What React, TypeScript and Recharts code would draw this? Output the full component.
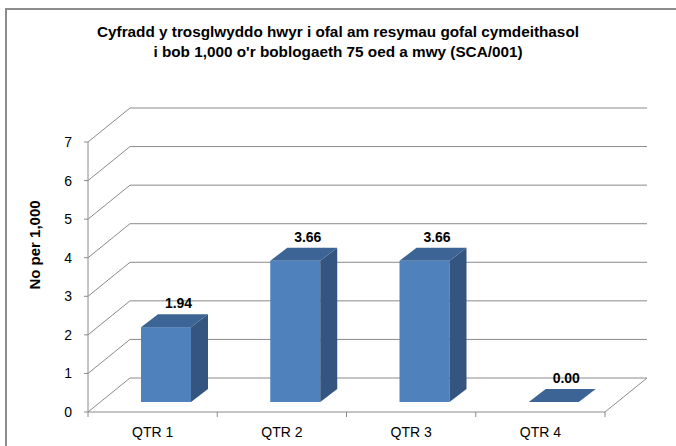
import { Bar, BarChart, CartesianGrid, LabelList, XAxis, YAxis } from "recharts";

const categories = ["QTR 1", "QTR 2", "QTR 3", "QTR 4"];
const rates = [1.94, 3.66, 3.66, 0];
const yTicks = [0, 1, 2, 3, 4, 5, 6, 7];

const chartData = categories.map((name, i) => ({ name, rate: rates[i] }));

// depth of the back wall, bar position inside the depth, bar thickness
const WALL_DX = 42;
const WALL_DY = -34;
const BAR_DX = 13;
const BAR_DY = -10;
const SIDE_DX = 17;
const SIDE_DY = -13;

const GRID = "#8a8a8a";
const FONT = "'Liberation Sans', Arial, sans-serif";

const gridLine = (props: any) => {
  const { x1, y1, x2, y2, x, y, width, height, index } = props;
  const isFloor = Math.abs(y1 - (y + height)) < 0.5;
  const step = width / categories.length;
  return (
    <g key={`grid-${index}`} stroke={GRID} strokeWidth={1} fill="none">
      <line x1={x1} y1={y1} x2={x1 + WALL_DX} y2={y1 + WALL_DY} />
      <line x1={x1 + WALL_DX} y1={y1 + WALL_DY} x2={x2 + WALL_DX} y2={y2 + WALL_DY} />
      {isFloor && (
        <>
          <line x1={x2} y1={y2} x2={x2 + WALL_DX} y2={y2 + WALL_DY} />
          {categories.map((_, i) => (
            <line key={i} x1={x + step * (i + 1)} y1={y2} x2={x + step * (i + 1)} y2={y2 + 5} />
          ))}
          <line x1={x} y1={y2} x2={x} y2={y2 + 5} />
        </>
      )}
    </g>
  );
};

const Bar3D = (props: any) => {
  const { x, y, width, height } = props;
  const bx = x + BAR_DX;
  const by = y + BAR_DY;
  const h = Math.max(height, 0);
  const top = `${bx},${by} ${bx + SIDE_DX},${by + SIDE_DY} ${bx + width + SIDE_DX},${by + SIDE_DY} ${bx + width},${by}`;
  const side = `${bx + width},${by} ${bx + width + SIDE_DX},${by + SIDE_DY} ${bx + width + SIDE_DX},${by + h + SIDE_DY} ${bx + width},${by + h}`;
  return (
    <g>
      {h > 0 && <rect x={bx} y={by} width={width} height={h} fill="#4F81BD" />}
      {h > 0 && <polygon points={side} fill="#33557F" />}
      <polygon points={top} fill="#3C6494" />
    </g>
  );
};

const renderValue = (props: any) => {
  const { x, y, width, value } = props;
  const cx = x + BAR_DX + (width + SIDE_DX) / 2 + 4;
  const cy = y + BAR_DY + SIDE_DY - 6;
  return (
    <text x={cx} y={cy} textAnchor="middle" fontFamily={FONT} fontSize={14} fontWeight="bold" fill="#000">
      {Number(value).toFixed(2)}
    </text>
  );
};

const App = () => {
  return (
    <div
      style={{
        position: "fixed",
        left: 0,
        top: 0,
        width: 676,
        height: 446,
        overflow: "hidden",
        background: "#fff",
      }}
    >
      <div
        style={{
          position: "absolute",
          left: 5,
          top: 8,
          width: 720,
          height: 480,
          border: "2px solid #8c8c8c",
        }}
      />
      <div
        style={{
          position: "absolute",
          left: 0,
          top: 22,
          width: 676,
          textAlign: "center",
          fontFamily: FONT,
          fontSize: 15.3,
          fontWeight: "bold",
          lineHeight: "20px",
          color: "#000",
        }}
      >
        Cyfradd y trosglwyddo hwyr i ofal am resymau gofal cymdeithasol
        <br />
        i bob 1,000 o'r boblogaeth 75 oed a mwy (SCA/001)
      </div>
      <div style={{ position: "absolute", left: 0, top: 0 }}>
        <BarChart
          width={676}
          height={446}
          data={chartData}
          margin={{ top: 142, right: 71, bottom: 0, left: 0 }}
          barSize={50}
        >
          <CartesianGrid vertical={false} horizontal={gridLine} />
          <XAxis
            dataKey="name"
            height={34}
            tickLine={false}
            axisLine={{ stroke: GRID }}
            tick={{ fontFamily: FONT, fontSize: 14, fill: "#000" }}
            tickMargin={9}
          />
          <YAxis
            width={88}
            domain={[0, 7]}
            ticks={yTicks}
            interval={0}
            tickSize={4}
            tickMargin={12}
            tickLine={{ stroke: GRID }}
            axisLine={{ stroke: GRID }}
            tick={{ fontFamily: FONT, fontSize: 14, fill: "#000" }}
            label={{
              value: "No per 1,000",
              angle: -90,
              position: "insideLeft",
              dx: 30,
              dy: -32,
              style: { fontFamily: FONT, fontSize: 15, fontWeight: "bold", fill: "#000", textAnchor: "middle" },
            }}
          />
          <Bar dataKey="rate" shape={Bar3D} isAnimationActive={false}>
            <LabelList dataKey="rate" content={renderValue} />
          </Bar>
        </BarChart>
      </div>
    </div>
  );
};

export default App;
